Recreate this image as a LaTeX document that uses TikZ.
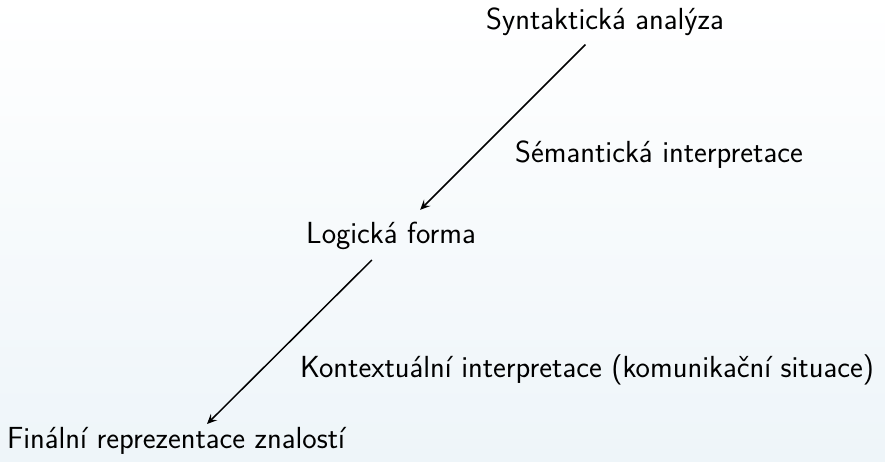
\documentclass[tikz,border=0pt]{standalone}
\usepackage{fontspec}
\usetikzlibrary{arrows.meta}
\definecolor{bgbottom}{RGB}{238,245,249}
\tikzset{
  lbl/.style={font=\sffamily\fontsize{30.5}{36}\selectfont, inner sep=0pt, anchor=center},
  arr/.style={-{Stealth[length=10pt,width=9pt,inset=4pt]}, line width=1.5pt}
}
\begin{document}
\begin{tikzpicture}[x=1pt,y=-1pt]
\shade[top color=white, bottom color=bgbottom] (0,0) rectangle (885,462);
\useasboundingbox (0,0) rectangle (885,462);
\node[lbl] (syn) at (605,22) {Syntaktická analýza};
\node[lbl] (sem) at (659,155) {Sémantická interpretace};
\node[lbl] (log) at (391,236) {Logická forma};
\node[lbl] (kon) at (587,370) {Kontextuální interpretace (komunikační situace)};
\node[lbl] (fin) at (176,441) {Finální reprezentace znalostí};
\draw[arr, shorten <=32pt, shorten >=37pt] ([xshift=3pt]syn.center) -- ([xshift=3pt]log.center);
\draw[arr, shorten <=34pt] ([xshift=5pt]log.center) -- ([xshift=31pt,yshift=17pt]fin.center);
\end{tikzpicture}
\end{document}
